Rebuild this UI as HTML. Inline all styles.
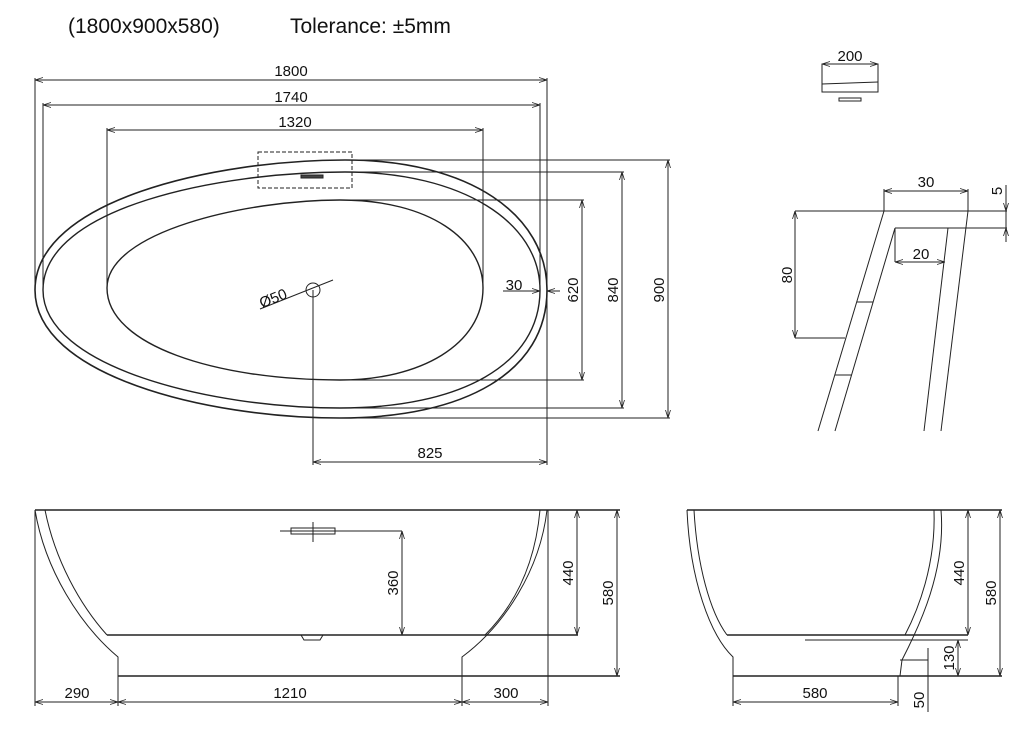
<!DOCTYPE html>
<html><head><meta charset="utf-8"><style>
html,body{margin:0;padding:0;background:#fff;width:1024px;height:730px;overflow:hidden}
svg{display:block}
text{font-family:"Liberation Sans",Arial,sans-serif;fill:#111}
</style></head><body>
<svg width="1024" height="730" viewBox="0 0 1024 730" xmlns="http://www.w3.org/2000/svg">
<defs>
<marker id="a" markerWidth="8" markerHeight="6" refX="8" refY="3" orient="auto-start-reverse" markerUnits="userSpaceOnUse"><path d="M0,0.5 L8,3 L0,5.5" fill="none" stroke="#222" stroke-width="0.8"/></marker>
</defs>
<text x="68" y="33" font-size="21">(1800x900x580)</text>
<text x="290" y="33" font-size="21">Tolerance: ±5mm</text>
<g stroke="#222" stroke-width="1" fill="none">
<path d="M35,290 C35,200 215,160 345,160 C470,160 547,215 547,290 C547,372 465,418 340,418 C205,418 35,375 35,290 Z" stroke-width="1.6"/>
<path d="M43,290 C43,207 220,172 345,172 C462,172 540,222 540,290 C540,365 460,408 340,408 C210,408 43,367 43,290 Z" stroke-width="1.4"/>
<path d="M107,288 C107,232 245,200 340,200 C430,200 483,240 483,288 C483,345 420,380 340,380 C215,380 107,345 107,288 Z" stroke-width="1.4"/>
<rect x="258" y="152" width="94" height="36" stroke-dasharray="4,2"/>
<rect x="301" y="175" width="22" height="3" fill="#444"/>
<line x1="35" y1="80" x2="547" y2="80" marker-start="url(#a)" marker-end="url(#a)"/>
<line x1="35" y1="78" x2="35" y2="290"/><line x1="547" y1="78" x2="547" y2="465"/>
<line x1="43" y1="105" x2="540" y2="105" marker-start="url(#a)" marker-end="url(#a)"/>
<line x1="43" y1="103" x2="43" y2="290"/><line x1="540" y1="103" x2="540" y2="290"/>
<line x1="107" y1="130" x2="483" y2="130" marker-start="url(#a)" marker-end="url(#a)"/>
<line x1="107" y1="128" x2="107" y2="288"/><line x1="483" y1="128" x2="483" y2="288"/>
<line x1="340" y1="160" x2="670" y2="160"/><line x1="340" y1="418" x2="670" y2="418"/>
<line x1="668" y1="160" x2="668" y2="418" marker-start="url(#a)" marker-end="url(#a)"/>
<line x1="340" y1="172" x2="624" y2="172"/><line x1="340" y1="408" x2="624" y2="408"/>
<line x1="622" y1="172" x2="622" y2="408" marker-start="url(#a)" marker-end="url(#a)"/>
<line x1="333" y1="200" x2="584" y2="200"/><line x1="333" y1="380" x2="584" y2="380"/>
<line x1="582" y1="200" x2="582" y2="380" marker-start="url(#a)" marker-end="url(#a)"/>
<line x1="503" y1="291" x2="540" y2="291" marker-end="url(#a)"/>
<line x1="560" y1="291" x2="547" y2="291" marker-end="url(#a)"/>
<circle cx="313" cy="290" r="7"/>
<line x1="260" y1="309" x2="333" y2="280"/>
<line x1="313" y1="290" x2="313" y2="465"/>
<line x1="313" y1="462" x2="547" y2="462" marker-start="url(#a)" marker-end="url(#a)"/>
<rect x="822" y="64" width="56" height="28"/>
<line x1="822" y1="84" x2="878" y2="82"/>
<rect x="839" y="98" width="22" height="3"/>
<line x1="822" y1="64" x2="878" y2="64" marker-start="url(#a)" marker-end="url(#a)"/>
<line x1="884" y1="191" x2="968" y2="191" marker-start="url(#a)" marker-end="url(#a)"/>
<line x1="884" y1="189" x2="884" y2="211"/><line x1="968" y1="189" x2="968" y2="211"/>
<line x1="795" y1="211" x2="1007" y2="211"/>
<line x1="895" y1="228" x2="1007" y2="228"/>
<line x1="1006" y1="185" x2="1006" y2="211" marker-end="url(#a)"/>
<line x1="1006" y1="242" x2="1006" y2="228" marker-end="url(#a)"/>
<line x1="1006" y1="211" x2="1006" y2="228"/>
<line x1="884" y1="211" x2="818" y2="431"/>
<line x1="895" y1="228" x2="835" y2="431"/>
<line x1="968" y1="211" x2="941" y2="431"/>
<line x1="948" y1="228" x2="924" y2="431"/>
<line x1="895" y1="228" x2="895" y2="262"/>
<line x1="895" y1="262" x2="945" y2="262" marker-start="url(#a)" marker-end="url(#a)"/>
<line x1="795" y1="211" x2="795" y2="338" marker-start="url(#a)" marker-end="url(#a)"/>
<line x1="795" y1="338" x2="845" y2="338"/>
<line x1="857" y1="302" x2="873" y2="302"/>
<line x1="835" y1="375" x2="852" y2="375"/>
<line x1="35" y1="510" x2="620" y2="510" stroke-width="1.6"/>
<path d="M35,510 C45,570 80,625 118,657 L118,676"/>
<path d="M45,510 C55,560 80,605 107,635"/>
<path d="M547,510 C540,570 505,625 462,657 L462,676"/>
<path d="M540,510 C535,565 515,605 485,635"/>
<line x1="107" y1="635" x2="578" y2="635" stroke-width="1.4"/>
<line x1="118" y1="676" x2="620" y2="676" stroke-width="1.4"/>
<path d="M301,635 L304,640 L320,640 L323,635"/>
<rect x="291" y="528" width="44" height="6"/>
<line x1="280" y1="531" x2="402" y2="531"/>
<line x1="313" y1="522" x2="313" y2="542"/>
<line x1="402" y1="531" x2="402" y2="635" marker-start="url(#a)" marker-end="url(#a)"/>
<line x1="577" y1="510" x2="577" y2="635" marker-start="url(#a)" marker-end="url(#a)"/>
<line x1="617" y1="510" x2="617" y2="676" marker-start="url(#a)" marker-end="url(#a)"/>
<line x1="35" y1="510" x2="35" y2="706"/>
<line x1="118" y1="676" x2="118" y2="706"/>
<line x1="462" y1="676" x2="462" y2="706"/>
<line x1="548" y1="510" x2="548" y2="706"/>
<line x1="35" y1="702" x2="118" y2="702" marker-start="url(#a)" marker-end="url(#a)"/>
<line x1="118" y1="702" x2="462" y2="702" marker-start="url(#a)" marker-end="url(#a)"/>
<line x1="462" y1="702" x2="548" y2="702" marker-start="url(#a)" marker-end="url(#a)"/>
<line x1="687" y1="510" x2="1002" y2="510" stroke-width="1.6"/>
<path d="M687,510 C690,580 710,635 733,657 L733,676"/>
<path d="M694,510 C697,565 710,612 727,635"/>
<path d="M941,510 C946,570 920,625 902,660 L900,676"/>
<path d="M934,510 C936,565 918,610 905,635"/>
<line x1="727" y1="635" x2="968" y2="635" stroke-width="1.4"/>
<line x1="805" y1="640" x2="968" y2="640"/>
<line x1="733" y1="676" x2="1002" y2="676" stroke-width="1.4"/>
<line x1="968" y1="510" x2="968" y2="635" marker-start="url(#a)" marker-end="url(#a)"/>
<line x1="1000" y1="510" x2="1000" y2="676" marker-start="url(#a)" marker-end="url(#a)"/>
<line x1="958" y1="640" x2="958" y2="676" marker-start="url(#a)" marker-end="url(#a)"/>
<line x1="900" y1="660" x2="928" y2="660"/>
<line x1="928" y1="648" x2="928" y2="712"/>
<line x1="733" y1="676" x2="733" y2="706"/>
<line x1="898" y1="676" x2="898" y2="706"/>
<line x1="733" y1="702" x2="898" y2="702" marker-start="url(#a)" marker-end="url(#a)"/>
</g>
<g font-size="15">
<text x="291" y="76" text-anchor="middle">1800</text>
<text x="291" y="102" text-anchor="middle">1740</text>
<text x="295" y="127" text-anchor="middle">1320</text>
<text x="514" y="290" text-anchor="middle">30</text>
<text x="430" y="458" text-anchor="middle">825</text>
<text transform="translate(578,290) rotate(-90)" text-anchor="middle">620</text>
<text transform="translate(618,290) rotate(-90)" text-anchor="middle">840</text>
<text transform="translate(664,290) rotate(-90)" text-anchor="middle">900</text>
<text transform="translate(275,303) rotate(-22)" text-anchor="middle">Ø50</text>
<text x="850" y="61" text-anchor="middle">200</text>
<text x="926" y="187" text-anchor="middle">30</text>
<text x="921" y="259" text-anchor="middle">20</text>
<text transform="translate(1002,191) rotate(-90)" text-anchor="middle">5</text>
<text transform="translate(792,275) rotate(-90)" text-anchor="middle">80</text>
<text transform="translate(398,583) rotate(-90)" text-anchor="middle">360</text>
<text transform="translate(573,573) rotate(-90)" text-anchor="middle">440</text>
<text transform="translate(613,593) rotate(-90)" text-anchor="middle">580</text>
<text x="77" y="698" text-anchor="middle">290</text>
<text x="290" y="698" text-anchor="middle">1210</text>
<text x="506" y="698" text-anchor="middle">300</text>
<text transform="translate(964,573) rotate(-90)" text-anchor="middle">440</text>
<text transform="translate(996,593) rotate(-90)" text-anchor="middle">580</text>
<text transform="translate(954,658) rotate(-90)" text-anchor="middle">130</text>
<text transform="translate(924,700) rotate(-90)" text-anchor="middle">50</text>
<text x="815" y="698" text-anchor="middle">580</text>
</g>
</svg>
</body></html>
